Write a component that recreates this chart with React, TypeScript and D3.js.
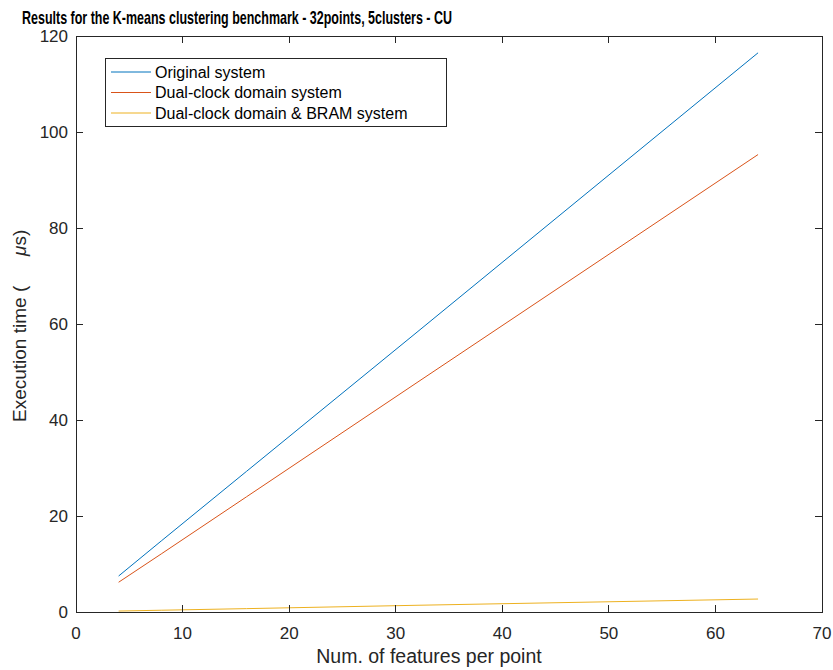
import * as d3 from 'd3';
import { useRef, useEffect } from 'react';

// number of features per point (x)
const features = [4, 8, 16, 32, 64];
// execution times in microseconds
const originalSystem = [7.5, 14.8, 29.3, 58.3, 116.5];
const dualClockSystem = [6.2, 12.1, 24.0, 47.8, 95.3];
const dualClockBramSystem = [0.2, 0.37, 0.7, 1.4, 2.7];

const seriesNames = ['Original system', 'Dual-clock domain system', 'Dual-clock domain & BRAM system'];
const seriesColors = ['#0072BD', '#D95319', '#EDB120'];

const xTicks = [0, 10, 20, 30, 40, 50, 60, 70];
const yTicks = [0, 20, 40, 60, 80, 100, 120];

export default function App() {
    const ref = useRef<SVGSVGElement>(null);

    useEffect(() => {
        const width = 833;
        const height = 670;
        const margin = { top: 36, right: 11, bottom: 58, left: 76 };
        const font = 'Liberation Sans, Arial, Helvetica, sans-serif';
        const axisColor = '#262626';

        const svg = d3.select(ref.current)
            .attr('width', width)
            .attr('height', height);
        svg.selectAll('*').remove();

        svg.append('rect')
            .attr('width', width)
            .attr('height', height)
            .attr('fill', '#ffffff');

        const x = d3.scaleLinear()
            .domain([0, 70])
            .range([margin.left, width - margin.right]);

        const y = d3.scaleLinear()
            .domain([0, 120])
            .range([height - margin.bottom, margin.top]);

        const x0 = x.range()[0], x1 = x.range()[1];
        const y0 = y.range()[0], y1 = y.range()[1];

        // Series lines
        const data = [originalSystem, dualClockSystem, dualClockBramSystem];
        const line = d3.line<number>()
            .x((_, i) => x(features[i]))
            .y(d => y(d));

        data.forEach((values, i) => {
            svg.append('path')
                .datum(values)
                .attr('fill', 'none')
                .attr('stroke', seriesColors[i])
                .attr('stroke-width', 1)
                .attr('d', line);
        });

        // Box and ticks (MATLAB style, ticks pointing in)
        const tickLen = 7;
        const axes = svg.append('g')
            .attr('stroke', axisColor)
            .attr('stroke-width', 1)
            .attr('shape-rendering', 'crispEdges');

        axes.append('rect')
            .attr('x', x0)
            .attr('y', y1)
            .attr('width', x1 - x0)
            .attr('height', y0 - y1)
            .attr('fill', 'none');

        xTicks.forEach(t => {
            axes.append('line').attr('x1', x(t)).attr('x2', x(t)).attr('y1', y0).attr('y2', y0 - tickLen);
            axes.append('line').attr('x1', x(t)).attr('x2', x(t)).attr('y1', y1).attr('y2', y1 + tickLen);
        });
        yTicks.forEach(t => {
            axes.append('line').attr('x1', x0).attr('x2', x0 + tickLen).attr('y1', y(t)).attr('y2', y(t));
            axes.append('line').attr('x1', x1).attr('x2', x1 - tickLen).attr('y1', y(t)).attr('y2', y(t));
        });

        // Tick labels
        svg.append('g')
            .selectAll('text')
            .data(xTicks)
            .enter().append('text')
            .attr('x', d => x(d))
            .attr('y', y0 + 27)
            .attr('text-anchor', 'middle')
            .style('font-family', font)
            .style('font-size', '17px')
            .style('fill', axisColor)
            .text(d => d);

        svg.append('g')
            .selectAll('text')
            .data(yTicks)
            .enter().append('text')
            .attr('x', x0 - 8)
            .attr('y', d => y(d) + 6)
            .attr('text-anchor', 'end')
            .style('font-family', font)
            .style('font-size', '17px')
            .style('fill', axisColor)
            .text(d => d);

        // Axis labels
        svg.append('text')
            .attr('x', (x0 + x1) / 2 - 20)
            .attr('y', 663)
            .attr('text-anchor', 'middle')
            .style('font-family', font)
            .style('font-size', '19.5px')
            .style('fill', axisColor)
            .text('Num. of features per point');

        const yLabel = svg.append('g')
            .attr('transform', 'translate(26, 0) rotate(-90)');
        yLabel.append('text')
            .attr('x', -422)
            .attr('y', 0)
            .style('font-family', font)
            .style('font-size', '19px')
            .style('fill', axisColor)
            .text('Execution time (');
        yLabel.append('text')
            .attr('x', -256)
            .attr('y', 0)
            .style('font-family', font)
            .style('font-size', '19px')
            .style('fill', axisColor)
            .html('<tspan font-style="italic">μ</tspan>s)');

        // Title
        svg.append('text')
            .attr('x', 22)
            .attr('y', 24)
            .attr('textLength', 430)
            .attr('lengthAdjust', 'spacingAndGlyphs')
            .style('font-family', font)
            .style('font-size', '19px')
            .style('font-weight', 'bold')
            .style('fill', '#000')
            .text('Results for the K-means clustering benchmark - 32points, 5clusters - CU');

        // Legend
        const legend = svg.append('g');
        legend.append('rect')
            .attr('x', 105.5)
            .attr('y', 58.5)
            .attr('width', 341)
            .attr('height', 68)
            .attr('fill', '#fff')
            .attr('stroke', axisColor)
            .attr('stroke-width', 1);

        seriesNames.forEach((name, i) => {
            const ly = 72 + i * 20.5;
            legend.append('line')
                .attr('x1', 111)
                .attr('x2', 151)
                .attr('y1', ly)
                .attr('y2', ly)
                .attr('stroke', seriesColors[i])
                .attr('stroke-width', 1);
            legend.append('text')
                .attr('x', 155)
                .attr('y', ly + 5.5)
                .style('font-family', font)
                .style('font-size', '16px')
                .style('fill', '#000')
                .text(name);
        });
    }, []);

    return (
        <svg ref={ref} style={{ position: 'absolute', left: 0, top: 0, display: 'block' }}></svg>
    );
}
